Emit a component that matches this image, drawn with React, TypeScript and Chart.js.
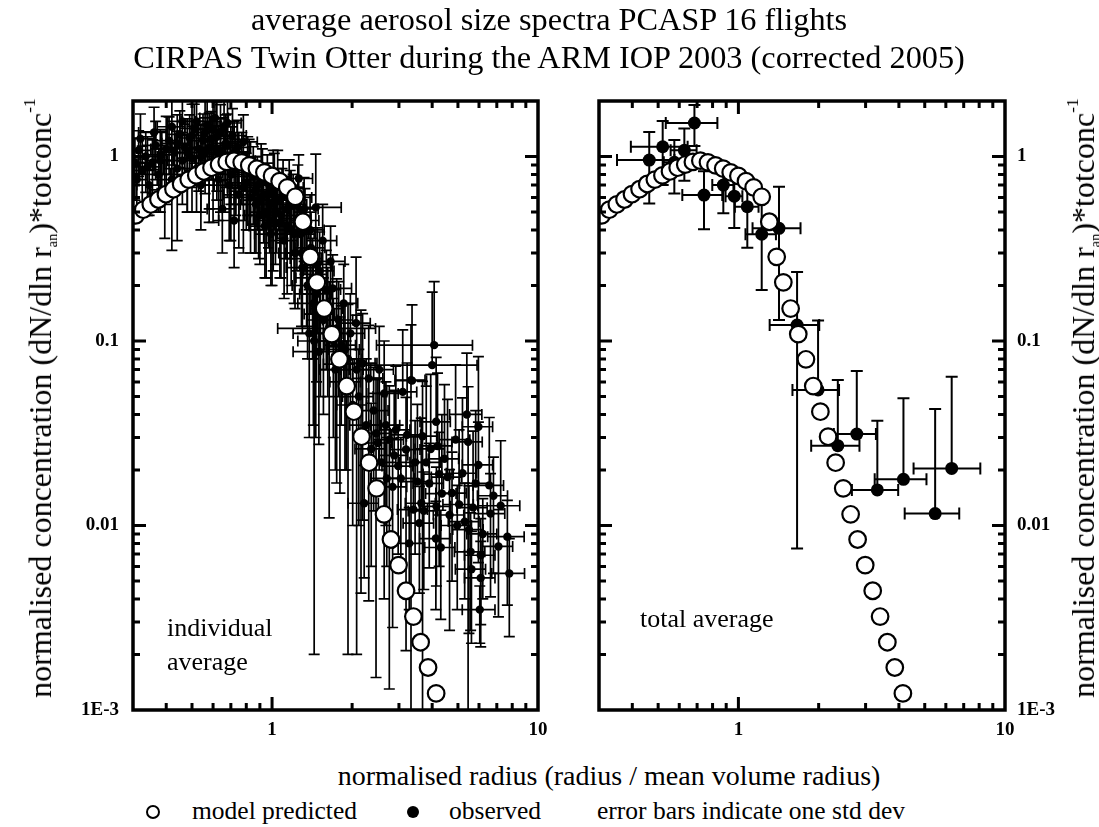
import React, { useEffect, useRef } from 'react';
import { Chart, registerables } from 'chart.js';

Chart.register(...registerables);

const FONT = "'Liberation Serif', 'Times New Roman', Times, serif";

// ---------- axes ----------
const xMin = 0.3;
const xMax = 10;
const yMin = 0.001;
const yMax = 2;
const xTickValues = [1, 10];
const xTickLabels = ['1', '10'];
const yTickValues = [0.001, 0.01, 0.1, 1];
const yTickLabels = ['1E-3', '0.01', '0.1', '1'];

// ---------- model predicted (same curve in both panels) ----------
const modelX = [
  0.307, 0.328, 0.350, 0.374, 0.399, 0.426, 0.455, 0.486, 0.519, 0.554, 0.592,
  0.632, 0.675, 0.720, 0.769, 0.821, 0.877, 0.936, 1.000, 1.068, 1.141, 1.223,
  1.306, 1.392, 1.474, 1.570, 1.677, 1.792, 1.909, 2.030, 2.170, 2.316, 2.473,
  2.636, 2.800, 2.990, 3.190, 3.400, 3.620, 3.860, 4.140,
];
const modelY = [
  0.48, 0.515, 0.55, 0.585, 0.625, 0.665, 0.71, 0.75, 0.79, 0.83, 0.87,
  0.905, 0.935, 0.95, 0.93, 0.895, 0.86, 0.82, 0.785, 0.735, 0.68, 0.605,
  0.443, 0.286, 0.208, 0.150, 0.109, 0.0796, 0.0570, 0.0414, 0.0303, 0.0219, 0.0159,
  0.0115, 0.0084, 0.0061, 0.00443, 0.00321, 0.00233, 0.00170, 0.00123,
];

// ---------- total average (right panel): mean and one std dev ----------
const totalX = [0.463, 0.52, 0.627, 0.684, 0.575, 0.743, 0.878, 0.965, 1.08, 1.223, 1.42, 1.66, 1.99, 2.36, 2.78, 3.32, 4.16, 5.47, 6.31];
const totalY = [0.957, 1.13, 1.08, 1.52, 0.93, 0.618, 0.70, 0.61, 0.535, 0.379, 0.408, 0.122, 0.0543, 0.0271, 0.0313, 0.0156, 0.0178, 0.0116, 0.0204];
const totalXStd = [0.1125, 0.125, 0.07, 0.15, 0.05, 0.127, 0.08, 0.07, 0.11, 0.16, 0.29, 0.35, 0.395, 0.485, 0.50, 0.655, 0.915, 1.265, 1.77];
const totalYStd = [0.40, 0.43, 0.34, 0.38, 0.30, 0.215, 0.208, 0.20, 0.215, 0.19, 0.278, 0.1145, 0.075, 0.0343, 0.0375, 0.0214, 0.0311, 0.0312, 0.0436];

// ---------- individual flight averages (left panel): [radius, conc, radius std, conc std] ----------
const indivRise = [
  [0.305, 0.92, 0.03, 0.34], [0.31, 0.75, 0.03, 0.22], [0.315, 1.08, 0.035, 0.30],
  [0.325, 0.84, 0.035, 0.30], [0.335, 1.00, 0.035, 0.36], [0.345, 0.70, 0.035, 0.22],
  [0.355, 0.93, 0.04, 0.30], [0.365, 1.15, 0.04, 0.40], [0.375, 0.80, 0.04, 0.30],
  [0.385, 1.02, 0.045, 0.35], [0.395, 0.66, 0.045, 0.30], [0.41, 1.22, 0.045, 0.42],
  [0.42, 0.75, 0.05, 0.44], [0.43, 1.05, 0.05, 0.40], [0.44, 0.86, 0.05, 0.51],
  [0.45, 1.32, 0.05, 0.45], [0.46, 0.95, 0.055, 0.40], [0.47, 1.12, 0.055, 0.38],
  [0.48, 0.80, 0.055, 0.30], [0.49, 1.26, 0.055, 0.42], [0.50, 0.98, 0.06, 0.48],
  [0.51, 1.42, 0.06, 0.50], [0.52, 0.86, 0.06, 0.36], [0.53, 1.10, 0.06, 0.45],
  [0.54, 0.70, 0.065, 0.30], [0.55, 1.22, 0.065, 0.48],
  [0.32, 1.25, 0.04, 0.45], [0.34, 0.88, 0.04, 0.40], [0.36, 1.35, 0.045, 0.50],
  [0.38, 0.95, 0.045, 0.45], [0.40, 1.10, 0.05, 0.55], [0.42, 1.45, 0.05, 0.55],
  [0.44, 1.18, 0.055, 0.50], [0.46, 1.55, 0.055, 0.60], [0.48, 1.05, 0.06, 0.55],
  [0.50, 1.30, 0.06, 0.62], [0.52, 1.55, 0.065, 0.55], [0.54, 1.00, 0.065, 0.50],
];
const indivPeak = [
  [0.56, 1.05, 0.065, 0.42], [0.57, 1.48, 0.07, 0.55], [0.58, 0.82, 0.07, 0.38],
  [0.59, 1.25, 0.07, 0.50], [0.60, 0.95, 0.07, 0.51], [0.61, 1.62, 0.075, 0.60],
  [0.62, 1.10, 0.075, 0.45], [0.63, 0.75, 0.075, 0.30], [0.64, 1.36, 0.08, 0.55],
  [0.65, 0.52, 0.08, 0.22], [0.66, 0.90, 0.08, 0.40], [0.67, 1.18, 0.08, 0.50],
  [0.68, 1.52, 0.085, 0.55], [0.69, 0.70, 0.085, 0.35], [0.70, 1.00, 0.085, 0.45],
  [0.71, 1.30, 0.09, 0.52], [0.72, 0.45, 0.09, 0.20], [0.73, 0.86, 0.09, 0.38],
  [0.74, 1.12, 0.09, 0.45], [0.75, 0.62, 0.095, 0.30], [0.77, 0.95, 0.095, 0.40],
  [0.78, 1.20, 0.10, 0.48], [0.80, 0.72, 0.10, 0.32], [0.81, 0.88, 0.10, 0.40],
  [0.83, 0.60, 0.10, 0.30], [0.85, 0.78, 0.11, 0.35],
  [0.56, 1.35, 0.07, 0.65], [0.58, 1.12, 0.07, 0.60], [0.60, 1.40, 0.075, 0.65],
  [0.62, 1.28, 0.075, 0.70], [0.64, 1.05, 0.08, 0.55], [0.66, 1.45, 0.08, 0.60],
  [0.68, 1.15, 0.085, 0.55], [0.70, 0.80, 0.085, 0.45], [0.72, 1.05, 0.09, 0.50],
  [0.75, 0.90, 0.095, 0.45], [0.78, 0.68, 0.10, 0.38], [0.82, 0.82, 0.10, 0.42],
  [0.86, 0.65, 0.11, 0.35],
];
const indivShoulder = [
  [0.87, 0.55, 0.11, 0.25], [0.88, 0.70, 0.11, 0.30], [0.90, 0.48, 0.11, 0.22],
  [0.91, 0.82, 0.11, 0.35], [0.93, 0.62, 0.12, 0.28], [0.94, 0.42, 0.12, 0.20],
  [0.96, 0.72, 0.12, 0.30], [0.98, 0.55, 0.12, 0.25], [0.99, 0.38, 0.13, 0.18],
  [1.01, 0.66, 0.13, 0.42], [1.03, 0.50, 0.13, 0.24], [1.05, 0.78, 0.13, 0.30],
  [1.07, 0.44, 0.14, 0.22], [1.09, 0.60, 0.14, 0.26], [1.11, 0.35, 0.14, 0.18],
  [1.13, 0.52, 0.14, 0.24], [1.16, 0.68, 0.15, 0.28], [1.18, 0.40, 0.15, 0.20],
  [1.20, 0.55, 0.15, 0.25], [1.22, 0.30, 0.16, 0.15], [1.24, 0.46, 0.16, 0.22],
  [1.26, 0.76, 0.16, 0.26],
  [0.89, 0.58, 0.11, 0.30], [0.92, 0.75, 0.12, 0.35], [0.95, 0.50, 0.12, 0.28],
  [0.97, 0.62, 0.12, 0.30], [1.00, 0.45, 0.13, 0.25], [1.02, 0.72, 0.13, 0.32],
  [1.04, 0.58, 0.13, 0.28], [1.08, 0.48, 0.14, 0.26], [1.10, 0.66, 0.14, 0.30],
  [1.14, 0.42, 0.15, 0.24], [1.17, 0.56, 0.15, 0.28], [1.21, 0.38, 0.16, 0.22],
  [1.25, 0.60, 0.16, 0.30],
];
const indivSteep = [
  [1.28, 0.38, 0.16, 0.20], [1.30, 0.25, 0.17, 0.14], [1.33, 0.45, 0.17, 0.22],
  [1.36, 0.20, 0.17, 0.12], [1.38, 0.11, 0.18, 0.08], [1.40, 0.32, 0.18, 0.18],
  [1.43, 0.16, 0.18, 0.125], [1.44, 0.10, 0.19, 0.098], [1.46, 0.53, 0.36, 0.50],
  [1.48, 0.26, 0.19, 0.15], [1.50, 0.0875, 0.30, 0.06], [1.52, 0.14, 0.20, 0.09],
  [1.55, 0.35, 0.20, 0.20], [1.60, 0.19, 0.21, 0.12], [1.64, 0.11, 0.21, 0.099],
  [1.66, 0.27, 0.22, 0.15], [1.69, 0.193, 0.30, 0.10], [1.73, 0.07, 0.22, 0.05],
  [1.75, 0.117, 0.70, 0.10], [1.78, 0.13, 0.23, 0.08], [1.82, 0.095, 0.24, 0.06],
  [1.86, 0.16, 0.24, 0.10], [1.90, 0.06, 0.25, 0.04], [1.93, 0.08, 0.25, 0.078],
  [1.97, 0.11, 0.26, 0.07], [2.01, 0.045, 0.26, 0.035], [2.07, 0.125, 0.27, 0.16],
  [2.08, 0.07, 0.27, 0.068],
  [1.29, 0.30, 0.17, 0.18], [1.32, 0.52, 0.17, 0.25], [1.35, 0.28, 0.18, 0.16],
  [1.39, 0.40, 0.18, 0.22], [1.42, 0.22, 0.19, 0.14], [1.47, 0.18, 0.20, 0.12],
  [1.51, 0.24, 0.20, 0.15], [1.56, 0.13, 0.21, 0.09], [1.62, 0.15, 0.22, 0.10],
  [1.70, 0.10, 0.23, 0.07], [1.80, 0.075, 0.24, 0.06], [1.88, 0.09, 0.25, 0.07],
];
const indivTailA = [
  [2.12, 0.05, 0.28, 0.04], [2.16, 0.0757, 0.28, 0.0714], [2.19, 0.0757, 0.29, 0.065],
  [2.22, 0.0132, 0.29, 0.008], [2.26, 0.035, 0.30, 0.045], [2.31, 0.0627, 0.30, 0.0588],
  [2.36, 0.026, 0.31, 0.02], [2.41, 0.042, 0.32, 0.03], [2.46, 0.0316, 0.32, 0.0301],
  [2.53, 0.070, 0.33, 0.05], [2.58, 0.022, 0.34, 0.03], [2.64, 0.052, 0.34, 0.048],
  [2.70, 0.018, 0.35, 0.012], [2.76, 0.0292, 0.36, 0.0279], [2.84, 0.0162, 0.37, 0.0134],
  [2.92, 0.033, 0.38, 0.04], [2.98, 0.021, 0.39, 0.014],
  [2.50, 0.028, 0.32, 0.035], [2.68, 0.035, 0.34, 0.025], [2.88, 0.024, 0.36, 0.03],
];
const indivTailB = [
  [3.10, 0.053, 0.40, 0.062], [3.19, 0.0258, 0.41, 0.0237], [3.28, 0.0080, 0.42, 0.0045],
  [3.33, 0.0614, 0.43, 0.0608], [3.36, 0.061, 0.45, 0.096], [3.40, 0.0122, 0.44, 0.018],
  [3.52, 0.0173, 0.46, 0.028], [3.58, 0.0103, 0.47, 0.006], [3.64, 0.0132, 0.47, 0.025],
  [3.68, 0.0305, 0.48, 0.0300], [3.80, 0.022, 0.50, 0.035], [3.90, 0.0169, 0.51, 0.011],
  [4.07, 0.095, 1.60, 0.115], [4.00, 0.074, 1.90, 0.11], [4.14, 0.0365, 0.54, 0.045],
  [4.15, 0.0127, 0.54, 0.008], [4.13, 0.0085, 0.54, 0.005], [4.19, 0.027, 0.55, 0.04],
  [4.31, 0.0076, 0.56, 0.0045], [4.35, 0.0149, 0.57, 0.025],
  [3.05, 0.018, 0.38, 0.012], [3.22, 0.031, 0.40, 0.045], [3.45, 0.022, 0.44, 0.015],
  [3.72, 0.012, 0.47, 0.0075], [3.95, 0.026, 0.50, 0.04], [4.25, 0.019, 0.55, 0.013],
  [4.45, 0.023, 0.58, 0.035],
];
const indivTailC = [
  [4.57, 0.0183, 0.60, 0.03], [4.65, 0.0114, 0.61, 0.0087], [4.90, 0.0292, 0.64, 0.045],
  [4.97, 0.010, 0.65, 0.0065], [5.20, 0.0192, 0.68, 0.03], [5.40, 0.040, 0.75, 0.046],
  [5.46, 0.0284, 0.71, 0.0281], [5.50, 0.0095, 0.72, 0.0069], [5.58, 0.0072, 0.73, 0.0045],
  [5.62, 0.0058, 0.73, 0.0035], [5.83, 0.0169, 0.76, 0.025], [5.97, 0.0343, 0.78, 0.048],
  [5.97, 0.0213, 0.78, 0.015], [6.04, 0.0035, 0.85, 0.0012], [6.09, 0.0069, 0.80, 0.004],
  [6.09, 0.0052, 0.80, 0.003], [6.56, 0.0165, 0.86, 0.022], [6.63, 0.0116, 0.87, 0.0075],
  [7.10, 0.0077, 0.93, 0.0045], [7.24, 0.0128, 1.30, 0.016], [7.67, 0.0087, 1.20, 0.005],
  [7.80, 0.0055, 1.10, 0.003],
  [4.75, 0.015, 0.62, 0.01], [5.05, 0.013, 0.66, 0.02], [5.30, 0.0105, 0.70, 0.0065],
  [5.70, 0.0125, 0.74, 0.02], [6.20, 0.009, 0.80, 0.005], [6.80, 0.0145, 0.88, 0.009],
];

// ---------- helpers ----------
const tickFont = { family: FONT, size: 19, weight: 'bold' as const };

function labelFor(value: number, values: number[], labels: string[]) {
  const i = values.findIndex((v) => Math.abs(v - value) / v < 1e-6);
  return i >= 0 ? labels[i] : '';
}

function mantissa(v: number) {
  const e = Math.floor(Math.log10(v) + 1e-9);
  return v / Math.pow(10, e);
}

function makePanelPlugin(obs: number[][], barWidth: number, capHalf: number) {
  return {
    id: 'panelDecor',
    beforeDatasetsDraw(chart: any) {
      const { ctx, chartArea: a, scales } = chart;
      const xs = scales.x;
      const ys = scales.y;
      ctx.save();
      ctx.beginPath();
      ctx.rect(a.left, a.top, a.right - a.left, a.bottom - a.top);
      ctx.clip();
      ctx.strokeStyle = '#000';
      ctx.lineWidth = barWidth;
      ctx.lineCap = 'butt';
      for (const [x, y, sx, sy] of obs) {
        const px = xs.getPixelForValue(x);
        const py = ys.getPixelForValue(y);
        ctx.beginPath();
        const yTop = ys.getPixelForValue(y + sy);
        ctx.moveTo(px, py);
        ctx.lineTo(px, yTop);
        ctx.moveTo(px - capHalf, yTop);
        ctx.lineTo(px + capHalf, yTop);
        if (y - sy > 0) {
          const yBot = ys.getPixelForValue(y - sy);
          ctx.moveTo(px, py);
          ctx.lineTo(px, yBot);
          ctx.moveTo(px - capHalf, yBot);
          ctx.lineTo(px + capHalf, yBot);
        }
        const xRight = xs.getPixelForValue(x + sx);
        ctx.moveTo(px, py);
        ctx.lineTo(xRight, py);
        ctx.moveTo(xRight, py - capHalf);
        ctx.lineTo(xRight, py + capHalf);
        if (x - sx > 0) {
          const xLeft = xs.getPixelForValue(x - sx);
          ctx.moveTo(px, py);
          ctx.lineTo(xLeft, py);
          ctx.moveTo(xLeft, py - capHalf);
          ctx.lineTo(xLeft, py + capHalf);
        }
        ctx.stroke();
      }
      ctx.restore();
    },
    afterDatasetsDraw(chart: any) {
      const { ctx, chartArea: a, scales } = chart;
      const xs = scales.x;
      const ys = scales.y;
      ctx.save();
      ctx.strokeStyle = '#000';
      ctx.lineCap = 'butt';
      ctx.lineWidth = 3;
      ctx.beginPath();
      for (const t of xs.ticks) {
        const m = mantissa(t.value);
        if (Math.abs(m - Math.round(m)) > 1e-6) continue;
        const px = xs.getPixelForValue(t.value);
        if (px < a.left + 3 || px > a.right - 3) continue;
        const len = Math.round(m) === 1 ? 13 : 7;
        ctx.moveTo(px, a.bottom);
        ctx.lineTo(px, a.bottom - len);
        ctx.moveTo(px, a.top);
        ctx.lineTo(px, a.top + len);
      }
      for (const t of ys.ticks) {
        const m = mantissa(t.value);
        if (Math.abs(m - Math.round(m)) > 1e-6) continue;
        const py = ys.getPixelForValue(t.value);
        if (py < a.top + 3 || py > a.bottom - 3) continue;
        const len = Math.round(m) === 1 ? 13 : 7;
        ctx.moveTo(a.left, py);
        ctx.lineTo(a.left + len, py);
        ctx.moveTo(a.right, py);
        ctx.lineTo(a.right - len, py);
      }
      ctx.stroke();
      ctx.lineWidth = 3.5;
      ctx.strokeRect(a.left, a.top, a.right - a.left, a.bottom - a.top);
      ctx.restore();
    },
  };
}

function panelConfig(side: 'left' | 'right', obs: number[][], dotRadius: number, barWidth: number, capHalf: number): any {
  return {
    type: 'scatter',
    data: {
      datasets: [
        {
          label: 'model predicted',
          data: modelX.map((x, i) => ({ x, y: modelY[i] })),
          pointRadius: 8.3,
          pointBorderWidth: 2.2,
          pointBackgroundColor: '#ffffff',
          pointBorderColor: '#000000',
          showLine: false,
          clip: 0,
        },
        {
          label: 'observed',
          data: obs.map((o) => ({ x: o[0], y: o[1] })),
          pointRadius: dotRadius,
          pointBorderWidth: 0,
          pointBackgroundColor: '#000000',
          pointBorderColor: '#000000',
          showLine: false,
          clip: 0,
        },
      ],
    },
    options: {
      responsive: false,
      animation: false,
      devicePixelRatio: 1,
      events: [],
      layout: {
        padding: side === 'left'
          ? { left: 0, right: 28, top: 101, bottom: 10 }
          : { left: 33, right: 0, top: 101, bottom: 10 },
      },
      plugins: { legend: { display: false }, tooltip: { enabled: false }, title: { display: false } },
      scales: {
        x: {
          type: 'logarithmic',
          min: xMin,
          max: xMax,
          position: 'bottom',
          grid: { display: false, drawTicks: false },
          border: { display: false },
          ticks: {
            autoSkip: false,
            maxRotation: 0,
            minRotation: 0,
            padding: 9,
            color: '#000',
            font: tickFont,
            callback: (v: any) => labelFor(Number(v), xTickValues, xTickLabels),
          },
          afterFit: (s: any) => { s.height = 40; },
        },
        y: {
          type: 'logarithmic',
          min: yMin,
          max: yMax,
          position: side,
          grid: { display: false, drawTicks: false },
          border: { display: false },
          ticks: {
            autoSkip: false,
            padding: side === 'left' ? 14 : 12,
            color: '#000',
            font: tickFont,
            callback: (v: any) => labelFor(Number(v), yTickValues, yTickLabels),
          },
          afterFit: (s: any) => { s.width = side === 'left' ? 133 : 94; },
        },
      },
    },
    plugins: [makePanelPlugin(obs, barWidth, capHalf)],
  };
}

function Txt({ x, baseline, size, align = 'left', children }: any) {
  return (
    <div
      style={{
        position: 'absolute',
        left: x,
        top: baseline - 0.8375 * size,
        fontSize: size,
        lineHeight: 1,
        whiteSpace: 'nowrap',
        transform: align === 'center' ? 'translateX(-50%)' : undefined,
      }}
    >
      {children}
    </div>
  );
}

function YTitle({ cx, cy }: { cx: number; cy: number }) {
  return (
    <div
      style={{
        position: 'absolute',
        left: cx,
        top: cy,
        fontSize: 32,
        lineHeight: 1,
        whiteSpace: 'nowrap',
        transform: 'translate(-50%, -50%) rotate(-90deg)',
      }}
    >
      normalised concentration (dN/dln r
      <span style={{ fontSize: '0.45em', verticalAlign: '-0.4em', lineHeight: 0 }}>an</span>
      )*totconc
      <span style={{ fontSize: '0.55em', verticalAlign: '0.9em', lineHeight: 0 }}>-1</span>
    </div>
  );
}

export default function App() {
  const leftRef = useRef<HTMLCanvasElement>(null);
  const rightRef = useRef<HTMLCanvasElement>(null);

  useEffect(() => {
    const indivObs = [...indivRise, ...indivPeak, ...indivShoulder, ...indivSteep, ...indivTailA, ...indivTailB, ...indivTailC];
    const totalObs = totalX.map((x, i) => [x, totalY[i], totalXStd[i], totalYStd[i]]);
    const left = new Chart(leftRef.current as HTMLCanvasElement, panelConfig('left', indivObs, 4.2, 1.7, 5.5));
    const right = new Chart(rightRef.current as HTMLCanvasElement, panelConfig('right', totalObs, 6.5, 2, 6));
    return () => {
      left.destroy();
      right.destroy();
    };
  }, []);

  return (
    <div
      style={{
        position: 'absolute',
        left: 0,
        top: 0,
        width: 1099,
        height: 827,
        overflow: 'hidden',
        background: '#ffffff',
        color: '#000000',
        fontFamily: FONT,
      }}
    >
      <canvas ref={leftRef} width={566} height={760} style={{ position: 'absolute', left: 0, top: 0 }} />
      <canvas ref={rightRef} width={533} height={760} style={{ position: 'absolute', left: 566, top: 0 }} />

      <Txt x={549} baseline={30} size={32.3} align="center">average aerosol size spectra PCASP 16 flights</Txt>
      <Txt x={549} baseline={68} size={32.3} align="center">CIRPAS Twin Otter during the ARM IOP 2003 (corrected 2005)</Txt>

      <YTitle cx={40} cy={398} />
      <YTitle cx={1083} cy={398} />

      <Txt x={167} baseline={637} size={26}>individual</Txt>
      <Txt x={167} baseline={671} size={26}>average</Txt>
      <Txt x={640} baseline={628} size={26}>total average</Txt>

      <Txt x={609} baseline={785} size={28} align="center">normalised radius (radius / mean volume radius)</Txt>

      <div style={{ position: 'absolute', left: 146, top: 805, width: 14, height: 14, border: '2.5px solid #000', borderRadius: '50%', boxSizing: 'border-box', background: '#fff' }} />
      <Txt x={192} baseline={819} size={25.5}>model predicted</Txt>
      <div style={{ position: 'absolute', left: 407, top: 806, width: 12, height: 12, borderRadius: '50%', background: '#000' }} />
      <Txt x={449} baseline={819} size={25.5}>observed</Txt>
      <Txt x={597} baseline={819} size={25.5}>error bars indicate one std dev</Txt>
    </div>
  );
}
